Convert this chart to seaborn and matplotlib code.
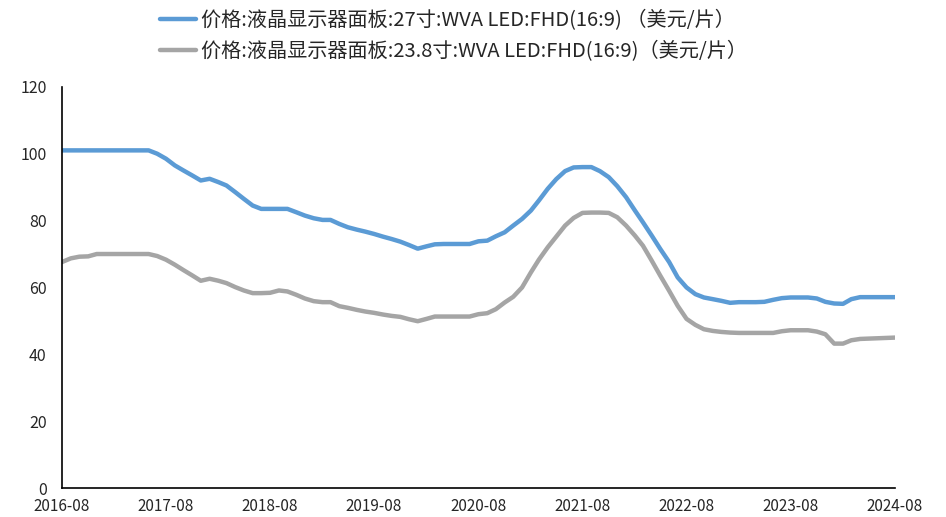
import matplotlib
matplotlib.use("Agg")
import matplotlib.pyplot as plt
import matplotlib.dates as mdates
import seaborn as sns
import numpy as np
import pandas as pd

sns.set_style("white", {"axes.edgecolor": "0"})
plt.rcParams["font.family"] = ["Noto Sans CJK SC", "DejaVu Sans"]

months = pd.date_range("2016-08-01", "2024-08-01", freq="MS")

name_27 = "价格:液晶显示器面板:27寸:WVA LED:FHD(16:9) （美元/片）"
name_238 = "价格:液晶显示器面板:23.8寸:WVA LED:FHD(16:9)（美元/片）"

price_27 = [
    101, 101, 101, 101, 101, 101, 101, 101, 101, 101, 101, 100,
    98.5, 96.5, 95, 93.5, 92, 92.5, 91.5, 90.5, 88.5, 86.5, 84.5, 83.5,
    83.5, 83.5, 83.5, 82.5, 81.5, 80.7, 80.2, 80.2, 79, 78, 77.3, 76.7,
    76, 75.2, 74.5, 73.7, 72.7, 71.6, 72.3, 72.9, 73, 73, 73, 73,
    73.8, 74, 75.3, 76.5, 78.5, 80.5, 83, 86, 89.5, 92.4, 94.8, 95.9,
    96, 96, 94.8, 93, 90.3, 87, 83, 79.5, 75.5, 71.5, 67.6, 63,
    60, 58, 57, 56.5, 56, 55.4, 55.6, 55.6, 55.6, 55.7, 56.3, 56.8,
    57, 57, 57, 56.7, 55.7, 55.2, 55.1, 56.5, 57.1, 57.1, 57.1, 57.1,
    57.1,
]
price_238 = [
    67.6, 68.7, 69.2, 69.3, 70, 70, 70, 70, 70, 70, 70, 69.4,
    68.3, 66.8, 65.2, 63.6, 62, 62.6, 62, 61.3, 60.1, 59.1, 58.3, 58.3,
    58.4, 59.1, 58.8, 57.8, 56.7, 55.9, 55.6, 55.6, 54.4, 53.9, 53.3, 52.8,
    52.4, 51.9, 51.5, 51.2, 50.5, 49.9, 50.6, 51.3, 51.3, 51.3, 51.3, 51.3,
    52, 52.3, 53.5, 55.5, 57.2, 60, 64.5, 68.3, 72, 75.2, 78.5, 80.8,
    82.3, 82.4, 82.4, 82.3, 81, 78.5, 75.5, 72.5, 68, 63.5, 59, 54.5,
    50.6, 48.8, 47.5, 47, 46.7, 46.5, 46.4, 46.4, 46.4, 46.4, 46.4, 46.9,
    47.2, 47.2, 47.2, 46.8, 46, 43.2, 43.2, 44.2, 44.6, 44.7, 44.8, 44.9,
    45,
]

df = pd.DataFrame({
    "month": np.concatenate([months, months]),
    "price": price_27 + price_238,
    "series": [name_27] * len(months) + [name_238] * len(months),
})

fig = plt.figure(figsize=(9.46, 5.17), dpi=100)
ax = fig.add_axes([0.0655, 0.056, 0.8805, 0.776])
sns.lineplot(data=df, x="month", y="price", hue="series",
             palette=["#5B9BD5", "#A5A5A5"], linewidth=3.2, ax=ax)

ax.set_xlim(months[0], months[-1])
ax.set_ylim(0, 120)
ax.set_yticks(np.arange(0, 121, 20))
tick_months = months[::12]
ax.set_xticks(tick_months)
ax.xaxis.set_major_formatter(mdates.DateFormatter("%Y-%m"))
ax.set_xlabel("")
ax.set_ylabel("")
sns.despine(ax=ax)
ax.tick_params(axis="x", direction="in", length=5, width=1, labelsize=11, pad=7)
ax.tick_params(axis="y", direction="out", length=5, width=1, labelsize=11.5, pad=6)
for sp in ["left", "bottom"]:
    ax.spines[sp].set_linewidth(1.2)

handles, labels = ax.get_legend_handles_labels()
ax.legend_.remove()
fig.legend(handles, labels, loc="upper left", bbox_to_anchor=(0.150, 1.015),
           frameon=False, fontsize=14.5, handlelength=1.8, handletextpad=0.25,
           labelspacing=0.45)

fig.savefig("out.png", dpi=100)
